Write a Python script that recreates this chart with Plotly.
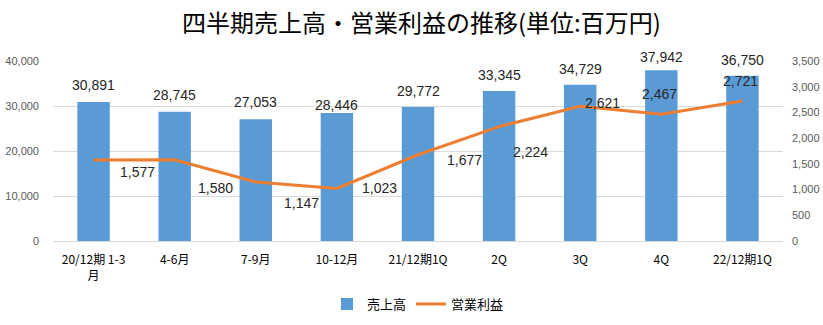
import plotly.graph_objects as go

# Quarterly data (unit: million yen)
quarters = ["20/12期 1-3<br>月", "4-6月", "7-9月", "10-12月", "21/12期1Q", "2Q", "3Q", "4Q", "22/12期1Q"]
sales = [30891, 28745, 27053, 28446, 29772, 33345, 34729, 37942, 36750]
op_profit = [1577, 1580, 1147, 1023, 1677, 2224, 2621, 2467, 2721]

# Label placement offsets in pixels (x, y; y positive = up)
sales_label_shift = [17, 17, 17, 8, 16, 16, 16, 13, 16]
profit_label_dx = [44, 41, 46, 43, 46, 31, 22, -2, -2]
profit_label_dy = [-12, -28, -21, 0, -5, -25, 3, 20, 20]

BAR_COLOR = "#5B9BD5"
LINE_COLOR = "#ED7D31"
LABEL_FONT = dict(family="Liberation Sans, Arial, sans-serif", size=14, color="#262626")
TICK_FONT = dict(family="Liberation Sans, Arial, sans-serif", size=11, color="#595959")
CJK = "Noto Sans CJK JP, sans-serif"

fig = go.Figure()
fig.add_trace(go.Bar(
    x=quarters, y=sales, name="売上高",
    marker=dict(color=BAR_COLOR, line=dict(width=0)),
    width=0.4, yaxis="y",
))
fig.add_trace(go.Scatter(
    x=quarters, y=op_profit, name="営業利益", mode="lines",
    line=dict(color=LINE_COLOR, width=3), yaxis="y2",
))

annotations = []
for q, v, s in zip(quarters, sales, sales_label_shift):
    annotations.append(dict(
        x=q, y=v, xref="x", yref="y", text=f"{v:,}", showarrow=False,
        yanchor="middle", xanchor="center", yshift=s, font=LABEL_FONT,
    ))
for q, v, dx, dy in zip(quarters, op_profit, profit_label_dx, profit_label_dy):
    annotations.append(dict(
        x=q, y=v, xref="x", yref="y2", text=f"{v:,}", showarrow=False,
        yanchor="middle", xanchor="center", xshift=dx, yshift=dy, font=LABEL_FONT,
    ))

fig.update_layout(
    width=823, height=325,
    margin=dict(l=53, r=40, t=61, b=84, autoexpand=False),
    paper_bgcolor="white", plot_bgcolor="white",
    title=dict(
        text="四半期売上高・営業利益の推移(単位:百万円)",
        x=0.512, xanchor="center", y=1 - 24 / 325, yanchor="middle",
        font=dict(family=CJK, size=24, color="#000000"),
    ),
    xaxis=dict(
        type="category", showgrid=False, showline=True, linecolor="#D9D9D9",
        linewidth=1, ticks="", tickfont=dict(family=CJK, size=12, color="#000000"),
        ticklabelstandoff=8, automargin=False,
    ),
    yaxis=dict(
        range=[0, 40000], dtick=10000, tickformat=",", showgrid=True,
        gridcolor="#D9D9D9", gridwidth=1, zeroline=False, showline=False,
        tickfont=TICK_FONT, ticklabelstandoff=13, automargin=False,
    ),
    yaxis2=dict(
        range=[0, 3500], dtick=500, tickformat=",", overlaying="y", side="right",
        showgrid=False, zeroline=False, showline=False, tickfont=TICK_FONT,
        ticklabelstandoff=8, automargin=False,
    ),
    legend=dict(
        orientation="h", x=0.5, xanchor="center", y=-0.35, yanchor="middle",
        font=dict(family=CJK, size=13, color="#000000"),
    ),
    bargap=0.6,
    annotations=annotations,
)

fig.write_html("out.html")
